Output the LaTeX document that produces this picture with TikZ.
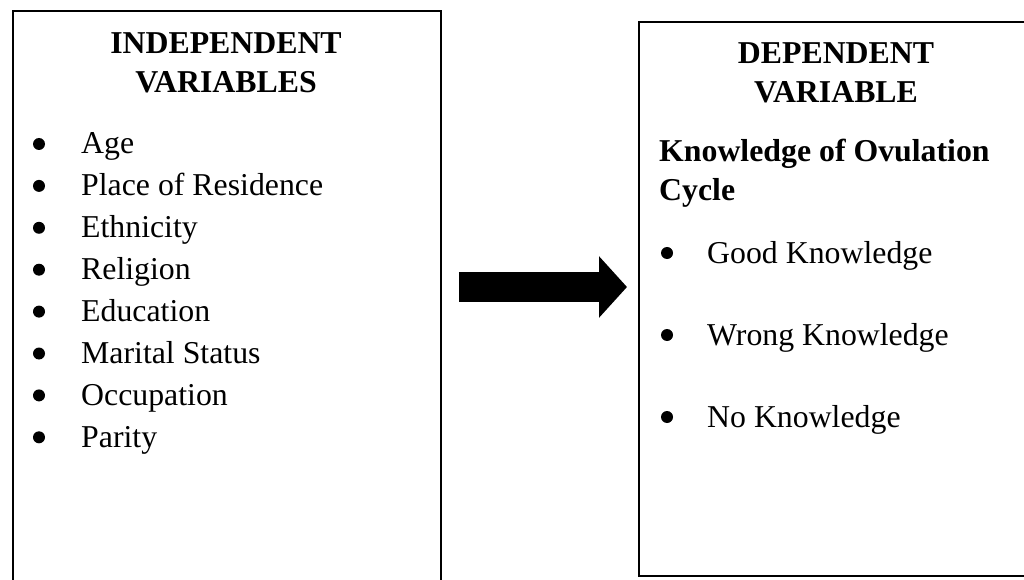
\documentclass[tikz,border=0pt]{standalone}
\usepackage{fontspec}
\setmainfont{Liberation Serif}
\usetikzlibrary{arrows.meta,positioning}

\tikzset{
  varbox/.style={draw, line width=1.8pt, inner sep=0pt, anchor=north west},
  heading/.style={font=\fontsize{31.8}{39}\selectfont\bfseries, align=center, inner sep=0pt, anchor=north},
  item/.style={font=\fontsize{31.8}{40}\selectfont, inner sep=0pt, anchor=base west},
  dot/.style={circle, fill=black, inner sep=0pt, minimum size=12pt},
  bigarrow/.style={line width=30pt, -{Triangle[length=28pt,width=60pt]}}
}

\begin{document}
\begin{tikzpicture}[x=1pt,y=1pt]
  \useasboundingbox (0,0) rectangle (1024,579);

  %% boxes
  \node[varbox, minimum width=428pt, minimum height=600pt] (indep) at (12,569) {};
  \node[varbox, minimum width=396pt, minimum height=554pt] (dep) at (638,558) {};

  %% headings
  \node[heading] (indeptitle) at (226,547) {INDEPENDENT\\VARIABLES};
  \node[heading] (deptitle) at (836,537) {DEPENDENT\\VARIABLE};
  \node[heading, align=left, anchor=north west] (cycle) at (659,440) {Knowledge of Ovulation\\Cycle};

  %% independent list
  \foreach \t [count=\i from 0] in {Age, Place of Residence, Ethnicity, Religion,
      Education, Marital Status, Occupation, Parity} {
    \node[dot] (ldot\i) at (39, {435-41.9*\i}) {};
    \node[item] (litem\i) at (81, {425-41.9*\i}) {\t};
  }

  %% dependent list
  \foreach \t [count=\i from 0] in {Good Knowledge, Wrong Knowledge, No Knowledge} {
    \node[dot] (rdot\i) at (667, {326-82*\i}) {};
    \node[item] (ritem\i) at (707, {316-82*\i}) {\t};
  }

  %% arrow
  \coordinate (mid) at (0,292);
  \draw[bigarrow, shorten <=17pt, shorten >=11pt] (indep.east |- mid) -- (dep.west |- mid);
\end{tikzpicture}
\end{document}
